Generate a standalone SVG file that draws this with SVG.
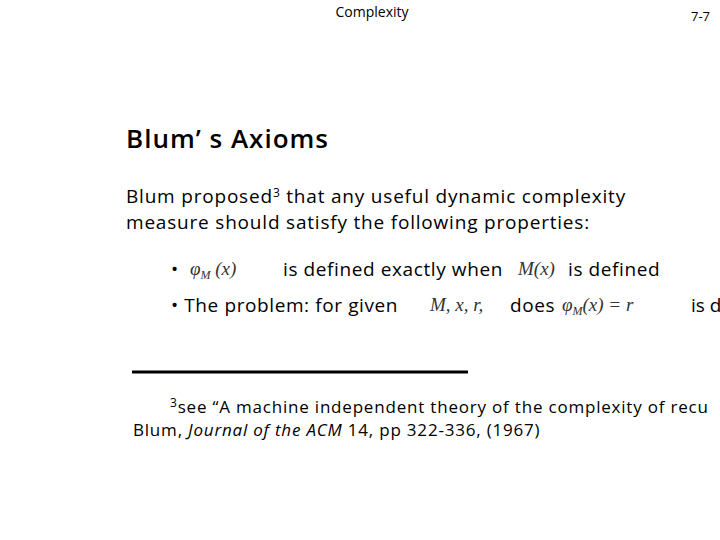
<svg xmlns="http://www.w3.org/2000/svg" width="720" height="540" viewBox="0 0 720 540">
<style>
.s{font-family:"Open Sans","DejaVu Sans",sans-serif;fill:#000}
.m{font-family:"Liberation Serif",serif;font-style:italic;fill:#333}
</style>
<rect width="720" height="540" fill="#fff"/>
<text class="s" x="372" y="17" font-size="14" text-anchor="middle">Complexity</text>
<text class="s" x="691" y="21" font-size="13">7-7</text>
<text class="s" x="126" y="148" font-size="26" font-weight="600" letter-spacing="1">Blum’  s  Axioms</text>
<text class="s" x="126" y="203" font-size="19" letter-spacing="0.8">Blum proposed<tspan font-size="12" dy="-6">3</tspan><tspan dy="6"> that any useful dynamic complexity</tspan></text>
<text class="s" x="126" y="229" font-size="19" letter-spacing="0.8">measure should satisfy the following properties:</text>
<text class="s" x="171" y="276" font-size="19">•</text>
<text class="m" x="190" y="275" font-size="19">φ<tspan font-size="12" dy="4">M</tspan><tspan dy="-4"> (x)</tspan></text>
<text class="s" x="283" y="276" font-size="19" letter-spacing="0.6">is defined exactly when</text>
<text class="m" x="518" y="275" font-size="19">M(x)</text>
<text class="s" x="568" y="276" font-size="19" letter-spacing="0.6">is defined</text>
<text class="s" x="171" y="312" font-size="19" letter-spacing="0.6">•  The problem: for given</text>
<text class="m" x="430" y="311" font-size="19">M,  x,  r,</text>
<text class="s" x="510" y="312" font-size="19" letter-spacing="0.6">does</text>
<text class="m" x="562" y="311" font-size="19">φ<tspan font-size="12" dy="4">M</tspan><tspan dy="-4">(x) = r</tspan></text>
<text class="s" x="691" y="312" font-size="19">is d</text>
<line x1="132" y1="372" x2="468" y2="372" stroke="#000" stroke-width="3"/>
<text class="s" x="170" y="413" font-size="17" letter-spacing="0.8"><tspan font-size="12" dy="-6">3</tspan><tspan dy="6">see    “A machine independent theory of the complexity of recu</tspan></text>
<text class="s" x="133" y="436" font-size="17" letter-spacing="0.8">Blum,  <tspan font-style="italic">Journal of the ACM</tspan> 14, pp 322-336, (1967)</text>
</svg>
